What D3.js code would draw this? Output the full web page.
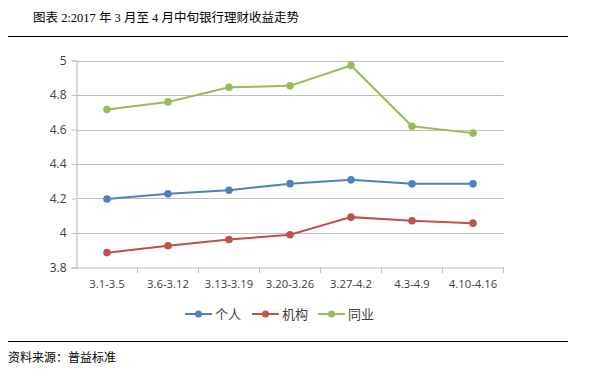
<!DOCTYPE html>
<html>
<head>
<meta charset="utf-8">
<script src="https://cdn.jsdelivr.net/npm/d3@7"></script>
<style>
  body { margin: 0; background: #fff; }
  svg { display: block; }
</style>
</head>
<body>
<div id="chart"></div>
<script>
var categories = ["3.1-3.5", "3.6-3.12", "3.13-3.19", "3.20-3.26", "3.27-4.2", "4.3-4.9", "4.10-4.16"];
var personal = [4.197, 4.227, 4.248, 4.286, 4.308, 4.285, 4.285];
var institution = [3.886, 3.926, 3.962, 3.99, 4.092, 4.071, 4.057];
var interbank = [4.716, 4.76, 4.845, 4.853, 4.971, 4.619, 4.579];
var yTicks = [3.8, 4, 4.2, 4.4, 4.6, 4.8, 5];

var series = [
  { name: "个人", values: personal, color: "#4F81BD" },
  { name: "机构", values: institution, color: "#C0504D" },
  { name: "同业", values: interbank, color: "#9BBB59" }
];

var width = 589, height = 376;
var cjk = "'Noto Sans CJK SC', sans-serif";

var svg = d3.select("#chart").append("svg")
  .attr("width", width)
  .attr("height", height);

// title and rules
svg.append("text")
  .attr("x", 33).attr("y", 22)
  .attr("font-family", "'Liberation Serif', 'Noto Sans CJK SC', serif")
  .attr("font-size", 12.5)
  .attr("fill", "#000")
  .text("图表 2:2017 年 3 月至 4 月中旬银行理财收益走势");

svg.append("line")
  .attr("x1", 8).attr("x2", 568).attr("y1", 36.5).attr("y2", 36.5)
  .attr("stroke", "#000").attr("stroke-width", 1);

svg.append("line")
  .attr("x1", 8).attr("x2", 568).attr("y1", 341.5).attr("y2", 341.5)
  .attr("stroke", "#000").attr("stroke-width", 1);

svg.append("text")
  .attr("x", 8).attr("y", 362)
  .attr("font-family", cjk)
  .attr("font-size", 12)
  .attr("fill", "#000")
  .text("资料来源：普益标准");

// scales
var x = d3.scaleBand().domain(categories).range([76.5, 503.5]);
var y = d3.scaleLinear().domain([3.8, 5]).range([267.5, 60.5]);

var g = svg.append("g");

// gridlines
g.selectAll(".grid")
  .data(yTicks.slice(1))
  .enter().append("line")
  .attr("x1", 76.5).attr("x2", 503.5)
  .attr("y1", function (d) { return Math.round(y(d)) + 0.5; })
  .attr("y2", function (d) { return Math.round(y(d)) + 0.5; })
  .attr("stroke", "#BFBFBF").attr("stroke-width", 1.2);

// y axis
var yAxis = g.append("g")
  .attr("transform", "translate(76.5,0)")
  .call(d3.axisLeft(y).tickValues(yTicks).tickSize(5).tickFormat(d3.format("~g")));
yAxis.select(".domain").attr("stroke", "#BFBFBF").attr("stroke-width", 1.2);
yAxis.selectAll(".tick line").attr("stroke", "#BFBFBF");
yAxis.selectAll("text")
  .attr("font-family", "'Open Sans', 'DejaVu Sans', sans-serif")
  .attr("font-size", 12).attr("fill", "#404040")
  .attr("x", -10);

// x axis
var xAxis = g.append("g")
  .attr("transform", "translate(0,267.5)")
  .call(d3.axisBottom(x).tickSize(0));
xAxis.select(".domain").attr("stroke", "#BFBFBF").attr("stroke-width", 1.2);
xAxis.selectAll("text")
  .attr("font-family", "'Open Sans', 'DejaVu Sans', sans-serif")
  .attr("font-size", 11.3).attr("fill", "#404040")
  .attr("y", 12);
// tick marks at category boundaries
g.selectAll(".xtick")
  .data(categories)
  .enter().append("line")
  .attr("x1", function (d) { return x(d) + x.bandwidth(); })
  .attr("x2", function (d) { return x(d) + x.bandwidth(); })
  .attr("y1", 267.5).attr("y2", 273)
  .attr("stroke", "#BFBFBF");

// lines
var line = d3.line()
  .x(function (d, i) { return x(categories[i]) + x.bandwidth() / 2; })
  .y(function (d) { return y(d); });

series.forEach(function (s) {
  g.append("path")
    .datum(s.values)
    .attr("fill", "none")
    .attr("stroke", s.color)
    .attr("stroke-width", 2)
    .attr("d", line);
  g.selectAll(null)
    .data(s.values)
    .enter().append("circle")
    .attr("cx", function (d, i) { return x(categories[i]) + x.bandwidth() / 2; })
    .attr("cy", function (d) { return y(d); })
    .attr("r", 3.8)
    .attr("fill", s.color);
});

// legend
var legendX = [185, 252, 318];
var legend = svg.selectAll(".legend")
  .data(series)
  .enter().append("g")
  .attr("transform", function (d, i) { return "translate(" + legendX[i] + ",314)"; });
legend.append("line")
  .attr("x1", 0).attr("x2", 27).attr("y1", 0).attr("y2", 0)
  .attr("stroke", function (d) { return d.color; })
  .attr("stroke-width", 2);
legend.append("circle")
  .attr("cx", 13.5).attr("cy", 0).attr("r", 3.5)
  .attr("fill", function (d) { return d.color; });
legend.append("text")
  .attr("x", 30).attr("y", 5)
  .attr("font-family", cjk)
  .attr("font-size", 13)
  .attr("fill", "#404040")
  .text(function (d) { return d.name; });
</script>
</body>
</html>
